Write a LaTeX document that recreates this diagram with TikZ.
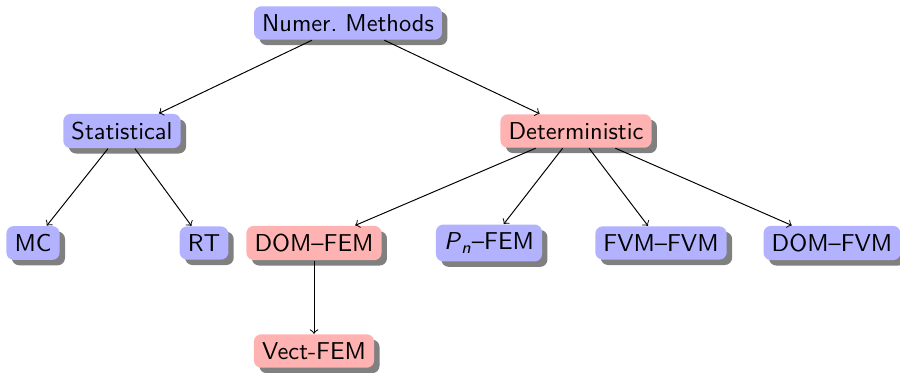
\documentclass[tikz,border=0pt]{standalone}
\usetikzlibrary{shadows}
\renewcommand{\familydefault}{\sfdefault}
\begin{document}
\begin{tikzpicture}[x=0.41pt,y=-0.41pt,
  box/.style={rounded corners=3pt,drop shadow={fill=black!50,opacity=1},inner sep=0.333em,font=\sffamily},
  bnode/.style={box,fill=blue!30},
  rnode/.style={box,fill=red!30},
  link/.style={->}]
\useasboundingbox (0,0) rectangle (900,372);
\node[bnode] (nm) at (348,23) {Numer.\ Methods};
\node[bnode] (st) at (122,131) {Statistical};
\node[rnode] (de) at (576,131) {Deterministic};
\node[bnode] (mc) at (33,243) {MC};
\node[bnode] (rt) at (204,243) {RT};
\node[rnode] (df) at (314,243) {DOM--FEM};
\node[bnode] (pn) at (489,243) {\textsl{P}\textsubscript{\textsl{n}}--FEM};
\node[bnode] (ff) at (661,243) {FVM--FVM};
\node[bnode] (dv) at (832,243) {DOM--FVM};
\node[rnode] (vf) at (314,351) {Vect-FEM};
\draw[link] (nm) -- (st);
\draw[link] (nm) -- (de);
\draw[link] (st) -- (mc);
\draw[link] (st) -- (rt);
\draw[link] (de) -- (df);
\draw[link] (de) -- (pn);
\draw[link] (de) -- (ff);
\draw[link] (de) -- (dv);
\draw[link] (df) -- (vf);
\end{tikzpicture}
\end{document}
